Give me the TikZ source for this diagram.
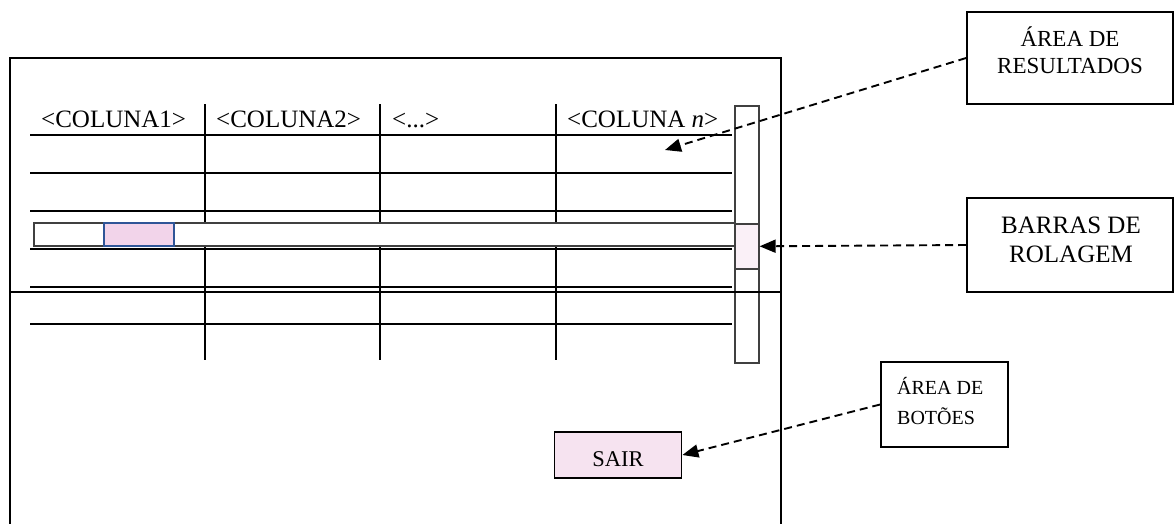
\documentclass[tikz,border=0pt]{standalone}
\usepackage{fontspec}
\setmainfont{Liberation Serif}
\usetikzlibrary{positioning,arrows.meta}
\definecolor{thumbpink}{HTML}{F2D4EA}
\definecolor{thumbedge}{HTML}{2F5597}
\definecolor{lightpink}{HTML}{FAF0F7}
\definecolor{btnpink}{HTML}{F6E3F0}
\tikzset{
  grid line/.style={line width=2.6pt},
  frame line/.style={line width=2pt},
  bar/.style={draw=black!75, line width=1.6pt, inner sep=0pt},
  callout/.style={draw, line width=1.8pt, inner sep=0pt},
  head/.style={font=\fontsize{25}{30}\selectfont, inner sep=0pt},
  note/.style={align=center, inner sep=0pt},
  pointer/.style={dash pattern=on 8pt off 5pt, line width=1.9pt, -{Triangle[length=16pt,width=13pt]}},
}

\begin{document}
\begin{tikzpicture}[x=1pt,y=-1pt]
  \useasboundingbox (0,0) rectangle (1174,523);
  % janela
  \draw[frame line] (10,530) -- (10,58) -- (781,58) -- (781,530);
  % tabela
  \foreach \y in {135,173,211,249,287,324}
    \draw[grid line] (30,\y) -- (732,\y);
  \foreach \x in {205,380,556}
    \draw[grid line] (\x,104) -- (\x,360);
  \node[head, anchor=base west] (col1) at (41,127) {<COLUNA1>};
  \node[head, anchor=base west] (col2) at (216,127) {<COLUNA2>};
  \node[head, anchor=base west] (col3) at (392,127) {<...>};
  \node[head, anchor=base west] (coln) at (567,127) {<COLUNA \textit{n}>};
  % barras de rolagem
  \node[bar, fill=white, minimum width=701pt, minimum height=23pt, anchor=north west] (hbar) at (33,222) {};
  \node[bar, draw=thumbedge, fill=thumbpink, minimum width=70pt, minimum height=23pt, anchor=north west] (hthumb) at (103,222) {};
  \node[bar, minimum width=24pt, minimum height=257pt, anchor=north west] (vbar) at (734,105) {};
  \node[bar, fill=lightpink, minimum width=24pt, minimum height=45pt, anchor=north west] (vthumb) at (734,223) {};
  \draw[frame line] (10,292) -- (781,292);
  \coordinate (resarea) at (665,150);
  % botao
  \node[callout, fill=btnpink, minimum width=127pt, minimum height=46pt, text height=24pt,
        font=\fontsize{22.5}{27}\selectfont] (sair) at (618,455) {SAIR};
  % legendas
  \node[callout, minimum width=206pt, minimum height=92pt] (res) at (1070,58) {};
  \node[note, font=\fontsize{23}{27}\selectfont, anchor=north] (restext) at (1070,27) {ÁREA DE\\RESULTADOS};
  \node[callout, minimum width=206pt, minimum height=94pt] (rol) at (1070,245) {};
  \node[note, font=\fontsize{25}{29}\selectfont, anchor=north] (roltext) at (1071,217) {BARRAS DE\\ROLAGEM};
  \node[callout, minimum width=127pt, minimum height=85pt] (bot) at (944.5,404.5) {};
  \node[note, align=left, font=\fontsize{20}{30}\selectfont, anchor=north west] (bottext) at (897,377) {ÁREA DE\\BOTÕES};
  % setas
  \draw[pointer] (res.west) -- (resarea);
  \draw[pointer] (rol.west) -- (vthumb.east);
  \draw[pointer] (bot.west) -- (sair.east);
\end{tikzpicture}
\end{document}
